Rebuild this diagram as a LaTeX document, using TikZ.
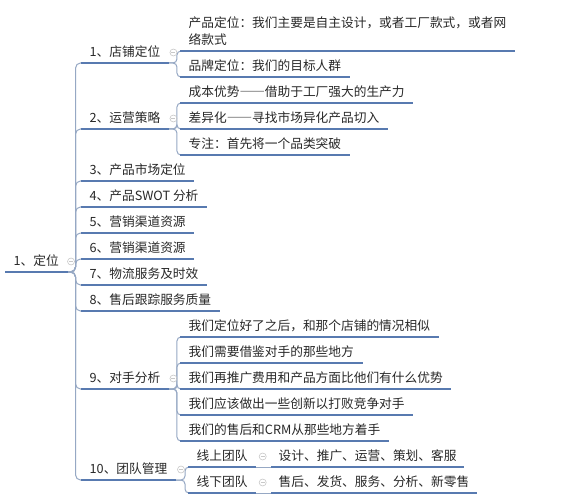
\documentclass[tikz,border=0pt]{standalone}
\usepackage{fontspec}
\setmainfont{Noto Sans CJK SC}
\newfontfamily\fwdash[CharacterWidth=Full]{Noto Sans CJK SC}
\usetikzlibrary{calc}
\definecolor{ul}{RGB}{88,122,176}
\definecolor{cn}{RGB}{150,168,196}
\definecolor{tx}{RGB}{40,40,40}
\definecolor{ic}{RGB}{200,200,200}
\tikzset{
  item/.style={anchor=south west, inner xsep=8.5bp, inner ysep=3.2bp,
    text depth=3bp, text height=9.5bp, text=tx,
    font=\fontsize{12.7bp}{17bp}\selectfont},
  uline/.style={draw=ul, line width=1.3bp},
  conn/.style={draw=cn, line width=1bp, rounded corners=4bp},
  fold/.style={circle, draw=ic, line width=0.6bp, minimum size=7bp, inner sep=0pt,
    path picture={\draw[ic, line width=0.6bp]
      ([xshift=-2bp]path picture bounding box.center) --
      ([xshift=2bp]path picture bounding box.center);}}
}
\begin{document}
\begin{tikzpicture}[x=1bp,y=-1bp]
\useasboundingbox[fill=white] (0,0) rectangle (566,500);
% root
\node[item] (root) at (5,272) {1、定位};
% level 1
\node[item] (a) at (81,63) {1、店铺定位};
\node[item] (b) at (81,129) {2、运营策略};
\node[item] (c) at (81,181) {3、产品市场定位};
\node[item] (d) at (81,207) {4、产品SWOT 分析};
\node[item] (e) at (81,233) {5、营销渠道资源};
\node[item] (f) at (81,259) {6、营销渠道资源};
\node[item] (g) at (81,285) {7、物流服务及时效};
\node[item] (h) at (81,311) {8、售后跟踪服务质量};
\node[item] (i) at (81,389) {9、对手分析};
\node[item] (j) at (81,480) {10、团队管理};
% level 2
\node[item, text height=27bp] (a1) at (180,51) {\vbox{\baselineskip=17bp\hbox{产品定位：我们主要是自主设计，或者工厂款式，或者网}\hbox{络款式}}};
\node[item] (a2) at (180,77) {品牌定位：我们的目标人群};
\node[item] (b1) at (180,103) {成本优势{\fwdash ——}借助于工厂强大的生产力};
\node[item] (b2) at (180,129) {差异化{\fwdash ——}寻找市场异化产品切入};
\node[item] (b3) at (180,155) {专注：首先将一个品类突破};
\node[item] (i1) at (180,337) {我们定位好了之后，和那个店铺的情况相似};
\node[item] (i2) at (180,363) {我们需要借鉴对手的那些地方};
\node[item] (i3) at (180,389) {我们再推广费用和产品方面比他们有什么优势};
\node[item] (i4) at (180,415) {我们应该做出一些创新以打败竞争对手};
\node[item] (i5) at (180,441) {我们的售后和CRM从那些地方着手};
\node[item] (j1) at (188,467) {线上团队};
\node[item] (j2) at (188,493) {线下团队};
% level 3
\node[item, inner xsep=7.5bp] (k1) at (271,467) {设计、推广、运营、策划、客服};
\node[item, inner xsep=7.5bp] (k2) at (271,493) {售后、发货、服务、分析、新零售};
% connectors
\foreach \n in {a,b,c,d,e,f,g,h,i,j}
  \draw[conn, rounded corners=5bp] (root.south east) -- ++(8,0) |- (\n.south west);
\foreach \n in {a1,a2}
  \draw[conn] (a.south east) -- ++(8,0) |- (\n.south west);
\foreach \n in {b1,b2,b3}
  \draw[conn] (b.south east) -- ++(8,0) |- (\n.south west);
\foreach \n in {i1,i2,i3,i4,i5}
  \draw[conn] (i.south east) -- ++(8,0) |- (\n.south west);
\foreach \n in {j1,j2}
  \draw[conn] (j.south east) -- ++(9,0) |- (\n.south west);
\draw[conn] (j1.south east) -- (k1.south west);
\draw[conn] (j2.south east) -- (k2.south west);
% underlines
\foreach \n in {root,a,b,c,d,e,f,g,h,i,j,a1,a2,b1,b2,b3,i1,i2,i3,i4,i5,j1,j2,k1,k2}
  \draw[uline] (\n.south west) -- (\n.south east);
% fold icons
\foreach \n/\dx in {root/3.5,a/4.5,b/4.5,i/4.5,j/5,j1/6.5,j2/6.5}
  \node[fold] (fold-\n) at ($(\n.south east)+(\dx,-10.5)$) {};
\end{tikzpicture}
\end{document}
